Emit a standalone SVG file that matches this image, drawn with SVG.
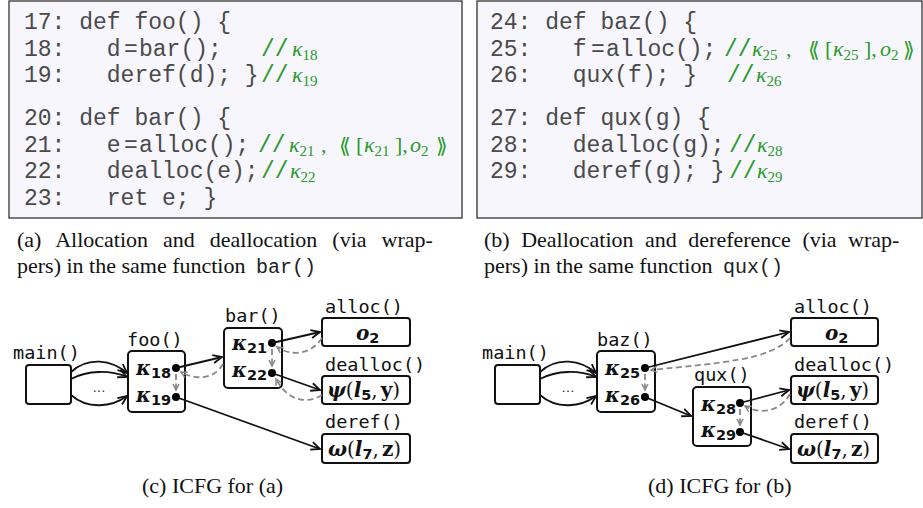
<svg xmlns="http://www.w3.org/2000/svg" width="923" height="508" viewBox="0 0 923 508">
  <defs>
    <style>
      .panel { fill: #f6f6fc; stroke: #333; stroke-width: 1.3; }
      .code { font-family: "Liberation Mono", "Courier New", monospace; font-size: 23px; fill: #4a4a4a; white-space: pre; }
      .cm { font-family: "Liberation Mono", monospace; font-size: 23px; fill: #2a9a2a; }
      .gm { font-family: "Liberation Serif", "DejaVu Serif", serif; font-size: 22px; fill: #2a9a2a; }
      .gi { font-style: italic; }
      .gs { font-size: 15px; font-style: normal; }
      .gb { font-family: "DejaVu Serif", "DejaVu Sans", serif; font-size: 21px; fill: #2a9a2a; }
      .cap { font-family: "Liberation Serif", "Times New Roman", serif; font-size: 22px; fill: #111; }
      .capm { font-family: "Liberation Mono", monospace; font-size: 20px; fill: #222; }
      .fn { font-family: "DejaVu Sans Mono", monospace; font-size: 18.5px; fill: #111; }
      .box { fill: #fff; stroke: #111; stroke-width: 2; }
      .mk { font-family: "DejaVu Serif", serif; font-size: 20px; font-weight: bold; font-style: italic; fill: #111; }
      .ms { font-family: "DejaVu Sans", sans-serif; font-size: 14.5px; font-weight: bold; font-style: normal; }
      .mu { font-style: normal; font-weight: normal; }
      .mb { font-style: normal; }
      .dot { fill: #000; }
      .edge { fill: none; stroke: #111; stroke-width: 1.8; marker-end: url(#arr); }
      .back { fill: none; stroke: #888; stroke-width: 1.8; stroke-dasharray: 6 3.5; marker-end: url(#garr); }
      .ell { font-family: "DejaVu Sans", sans-serif; font-size: 13px; fill: #333; }
    </style>
    <marker id="arr" markerUnits="userSpaceOnUse" markerWidth="12" markerHeight="12" refX="10" refY="5" orient="auto">
      <path d="M1,1 L10,5 L1,9" fill="none" stroke="#111" stroke-width="1.8"/>
    </marker>
    <marker id="garr" markerUnits="userSpaceOnUse" markerWidth="10" markerHeight="10" refX="7" refY="4" orient="auto">
      <path d="M1,1 L7,4 L1,7" fill="none" stroke="#888" stroke-width="1.5"/>
    </marker>
  </defs>

  <!-- code listing (a) -->
  <g id="listing-a">
    <rect class="panel" x="9" y="1" width="453" height="217"/>
    <text class="code" x="24" y="29">17: def foo() {</text>
    <text class="code" x="24" y="56">18:   d<tspan x="124">=</tspan><tspan x="139">bar();</tspan></text>
    <text class="code" x="24" y="82">19:   deref(d); }</text>
    <text class="code" x="24" y="125">20: def bar() {</text>
    <text class="code" x="24" y="152">21:   e<tspan x="124">=</tspan><tspan x="139">alloc();</tspan></text>
    <text class="code" x="24" y="178">22:   dealloc(e);</text>
    <text class="code" x="24" y="205">23:   ret e; }</text>

    <text class="cm" x="261" y="56">//</text>
    <text class="gm gi" x="292" y="56">κ<tspan class="gs" dy="4">18</tspan></text>
    <text class="cm" x="261" y="82">//</text>
    <text class="gm gi" x="292" y="82">κ<tspan class="gs" dy="4">19</tspan></text>
    <text class="cm" x="258" y="152">//</text>
    <text class="gm gi" x="289" y="152">κ<tspan class="gs" dy="4">21</tspan></text>
    <text class="gm" x="321" y="152">,</text>
    <text class="gb" x="339" y="153">⟪</text>
    <text class="gm" x="356" y="152">[</text>
    <text class="gm gi" x="364" y="152">κ<tspan class="gs" dy="4">21</tspan></text>
    <text class="gm" x="395" y="152">],</text>
    <text class="gm gi" x="410" y="152">o<tspan class="gs" dy="4">2</tspan></text>
    <text class="gb" x="436" y="153">⟫</text>
    <text class="cm" x="261" y="178">//</text>
    <text class="gm gi" x="290" y="178">κ<tspan class="gs" dy="4">22</tspan></text>
  </g>

  <!-- code listing (b) -->
  <g id="listing-b">
    <rect class="panel" x="477" y="1" width="445" height="217"/>
    <text class="code" x="490" y="29">24: def baz() {</text>
    <text class="code" x="490" y="56">25:   f<tspan x="591">=</tspan><tspan x="606">alloc();</tspan></text>
    <text class="code" x="490" y="82">26:   qux(f); }</text>
    <text class="code" x="490" y="125">27: def qux(g) {</text>
    <text class="code" x="490" y="152">28:   dealloc(g);</text>
    <text class="code" x="490" y="178">29:   deref(g); }</text>

    <text class="cm" x="724" y="56">//</text>
    <text class="gm gi" x="752" y="56">κ<tspan class="gs" dy="4">25</tspan></text>
    <text class="gm" x="786" y="56">,</text>
    <text class="gb" x="808" y="57">⟪</text>
    <text class="gm" x="825" y="56">[</text>
    <text class="gm gi" x="833" y="56">κ<tspan class="gs" dy="4">25</tspan></text>
    <text class="gm" x="864" y="56">],</text>
    <text class="gm gi" x="880" y="56">o<tspan class="gs" dy="4">2</tspan></text>
    <text class="gb" x="903" y="57">⟫</text>
    <text class="cm" x="727" y="82">//</text>
    <text class="gm gi" x="756" y="82">κ<tspan class="gs" dy="4">26</tspan></text>
    <text class="cm" x="729" y="152">//</text>
    <text class="gm gi" x="757" y="152">κ<tspan class="gs" dy="4">28</tspan></text>
    <text class="cm" x="729" y="178">//</text>
    <text class="gm gi" x="757" y="178">κ<tspan class="gs" dy="4">29</tspan></text>
  </g>

  <!-- sub-captions -->
  <g id="captions">
    <text class="cap" x="17" y="247" word-spacing="9.5">(a) Allocation and deallocation (via wrap-</text>
    <text class="cap" x="17" y="273">pers) in the same function</text>
    <text class="capm" x="256" y="273">bar()</text>
    <text class="cap" x="484" y="247" word-spacing="6">(b) Deallocation and dereference (via wrap-</text>
    <text class="cap" x="484" y="273">pers) in the same function</text>
    <text class="capm" x="723" y="273">qux()</text>
    <text class="cap" x="142" y="493">(c) ICFG for (a)</text>
    <text class="cap" x="648" y="493">(d) ICFG for (b)</text>
  </g>

  <!-- ICFG (c) nodes -->
  <g id="c-main">
    <text class="fn" x="13" y="359">main()</text>
    <rect class="box" x="26" y="365" width="45" height="39" rx="3"/>
  </g>
  <g id="c-foo">
    <text class="fn" x="127" y="346">foo()</text>
    <rect class="box" x="128" y="351" width="57" height="61" rx="4"/>
    <text class="mk" x="136" y="375">κ<tspan class="ms" dy="3">18</tspan></text>
    <text class="mk" x="136" y="402">κ<tspan class="ms" dy="3">19</tspan></text>
    <circle class="dot" cx="176" cy="368" r="4"/>
    <circle class="dot" cx="176" cy="397" r="4"/>
  </g>
  <g id="c-bar">
    <text class="fn" x="225" y="322">bar()</text>
    <rect class="box" x="224" y="328" width="58" height="60" rx="4"/>
    <text class="mk" x="232" y="350">κ<tspan class="ms" dy="3">21</tspan></text>
    <text class="mk" x="232" y="377">κ<tspan class="ms" dy="3">22</tspan></text>
    <circle class="dot" cx="272" cy="343" r="4"/>
    <circle class="dot" cx="272" cy="373" r="4"/>
  </g>
  <g id="c-alloc">
    <text class="fn" x="325" y="313">alloc()</text>
    <rect class="box" x="322" y="318" width="88" height="28" rx="3"/>
    <text class="mk" x="356" y="340">o<tspan class="ms" dy="3">2</tspan></text>
  </g>
  <g id="c-dealloc">
    <text class="fn" x="325" y="371">dealloc()</text>
    <rect class="box" x="322" y="376" width="88" height="28" rx="3"/>
    <text class="mk" x="327" y="397">ψ<tspan class="mu">(</tspan>l<tspan class="ms" dy="3">5</tspan><tspan class="mu" dy="-3">,</tspan><tspan class="mb" dx="3">y</tspan><tspan class="mu">)</tspan></text>
  </g>
  <g id="c-deref">
    <text class="fn" x="325" y="428">deref()</text>
    <rect class="box" x="322" y="434" width="88" height="29" rx="3"/>
    <text class="mk" x="328" y="456">ω<tspan class="mu">(</tspan>l<tspan class="ms" dy="3">7</tspan><tspan class="mu" dy="-3">,</tspan><tspan class="mb" dx="3">z</tspan><tspan class="mu">)</tspan></text>
  </g>

  <!-- ICFG (d) nodes -->
  <g id="d-main">
    <text class="fn" x="482" y="359">main()</text>
    <rect class="box" x="495" y="365" width="45" height="39" rx="3"/>
  </g>
  <g id="d-baz">
    <text class="fn" x="597" y="346">baz()</text>
    <rect class="box" x="597" y="351" width="58" height="61" rx="4"/>
    <text class="mk" x="605" y="375">κ<tspan class="ms" dy="3">25</tspan></text>
    <text class="mk" x="605" y="402">κ<tspan class="ms" dy="3">26</tspan></text>
    <circle class="dot" cx="645" cy="368" r="4"/>
    <circle class="dot" cx="645" cy="397" r="4"/>
  </g>
  <g id="d-qux">
    <text class="fn" x="694" y="381">qux()</text>
    <rect class="box" x="693" y="387" width="58" height="59" rx="4"/>
    <text class="mk" x="701" y="411">κ<tspan class="ms" dy="3">28</tspan></text>
    <text class="mk" x="701" y="437">κ<tspan class="ms" dy="3">29</tspan></text>
    <circle class="dot" cx="740" cy="403" r="4"/>
    <circle class="dot" cx="740" cy="432" r="4"/>
  </g>
  <g id="d-alloc">
    <text class="fn" x="794" y="313">alloc()</text>
    <rect class="box" x="791" y="318" width="87" height="28" rx="3"/>
    <text class="mk" x="825" y="340">o<tspan class="ms" dy="3">2</tspan></text>
  </g>
  <g id="d-dealloc">
    <text class="fn" x="794" y="371">dealloc()</text>
    <rect class="box" x="791" y="376" width="87" height="28" rx="3"/>
    <text class="mk" x="796" y="397">ψ<tspan class="mu">(</tspan>l<tspan class="ms" dy="3">5</tspan><tspan class="mu" dy="-3">,</tspan><tspan class="mb" dx="3">y</tspan><tspan class="mu">)</tspan></text>
  </g>
  <g id="d-deref">
    <text class="fn" x="794" y="428">deref()</text>
    <rect class="box" x="791" y="434" width="87" height="29" rx="3"/>
    <text class="mk" x="797" y="456">ω<tspan class="mu">(</tspan>l<tspan class="ms" dy="3">7</tspan><tspan class="mu" dy="-3">,</tspan><tspan class="mb" dx="3">z</tspan><tspan class="mu">)</tspan></text>
  </g>

  <!-- connectors -->
  <g id="connectors">
    <!-- (c) calls from main into foo -->
    <path class="edge" d="M71,372 C88,356 112,360 127,373"/>
    <path class="edge" d="M71,379 C88,370 110,370 127,377"/>
    <path class="edge" d="M71,395 C88,410 112,407 127,396"/>
    <text class="ell" x="99" y="392" text-anchor="middle">…</text>
    <!-- (c) calls and returns -->
    <path class="edge" d="M176,368 L222,357"/>
    <path class="back" d="M223,364 C214,380 195,380 181,372"/>
    <path class="back" d="M176,374 L176,390"/>
    <path class="edge" d="M176,397 L320,449"/>
    <path class="edge" d="M272,343 L320,332"/>
    <path class="back" d="M322,338 C310,356 290,356 277,347"/>
    <path class="back" d="M272,349 L272,366"/>
    <path class="edge" d="M272,373 L320,390"/>
    <path class="back" d="M322,395 C308,404 288,402 276,379"/>

    <!-- (d) calls from main into baz -->
    <path class="edge" d="M540,372 C557,356 581,360 596,373"/>
    <path class="edge" d="M540,379 C557,370 579,370 596,377"/>
    <path class="edge" d="M540,395 C557,410 581,407 596,396"/>
    <text class="ell" x="568" y="392" text-anchor="middle">…</text>
    <!-- (d) calls and returns -->
    <path class="edge" d="M645,368 L789,332"/>
    <path class="back" d="M790,338 C770,360 720,363 651,370"/>
    <path class="back" d="M645,374 L645,390"/>
    <path class="edge" d="M645,397 L691,416"/>
    <path class="edge" d="M740,403 L789,390"/>
    <path class="back" d="M790,394 C780,412 760,415 745,406"/>
    <path class="back" d="M740,409 L740,425"/>
    <path class="edge" d="M740,432 L789,449"/>
  </g>
</svg>
